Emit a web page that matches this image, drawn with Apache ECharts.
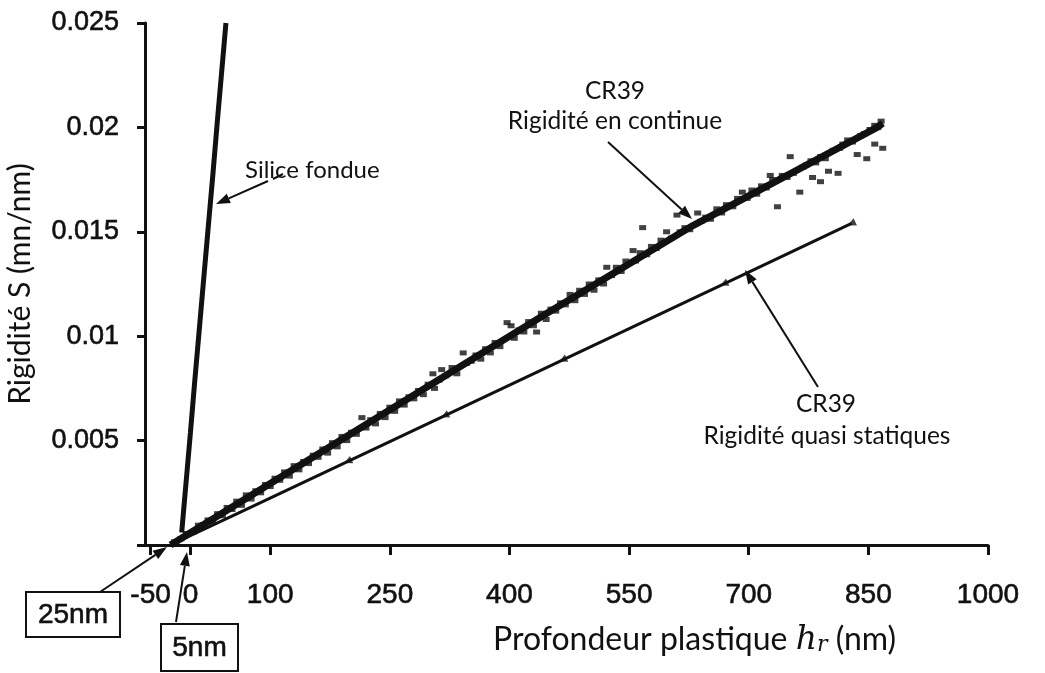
<!DOCTYPE html>
<html>
<head>
<meta charset="utf-8">
<script src="https://cdn.jsdelivr.net/npm/echarts@6/dist/echarts.min.js"></script>
<style>
  html, body { margin: 0; padding: 0; background: #fff; }
  #chart { width: 1045px; height: 673px; }
</style>
</head>
<body>
<div id="chart"></div>
<script>
// Tick positions shown on the depth axis (nm)
const depthTicks = [-50, 0, 100, 250, 400, 550, 700, 850, 1000];

// Fused silica: stiffness vs plastic depth
const silicaCurve = [
  [-11, 0.0006], [-5.5, 0.0030], [0, 0.0054], [5.5, 0.0079], [11, 0.0103],
  [16.5, 0.0127], [22, 0.0151], [28, 0.0177], [33.5, 0.0202], [39, 0.0226], [44.5, 0.0250]
];

// CR39, continuous stiffness: trend through the measurement cloud
const cr39ContinuousTrend = [
  [-25, 0], [60, 0.0020], [187.5, 0.0050], [447, 0.0111], [630, 0.0153], [861, 0.0200], [868, 0.0202]
];

// CR39, continuous stiffness: individual measurements
const cr39ContinuousPoints = [
  [-20,0.00015],[-12,0.0003],[-5,0.00055],[3,0.0006],[10,0.00095],[16,0.00098],[22,0.0012],[28,0.0011],
  [34,0.0015],[40,0.0014],[46,0.0018],[52,0.0017],[58,0.0021],[64,0.0019],[70,0.0024],[76,0.0022],
  [82,0.0026],[88,0.0025],[94,0.0029],[100,0.0028],[106,0.0032],[112,0.0031],[118,0.0035],[124,0.0033],
  [130,0.0038],[136,0.0036],[142,0.0040],[148,0.0039],[154,0.0043],[160,0.0042],[166,0.0046],[172,0.0044],
  [178,0.0049],[184,0.0047],[190,0.0052],[196,0.0050],[202,0.0054],[208,0.0053],[215,0.0061],[220,0.0056],
  [226,0.0060],[232,0.0058],[238,0.0063],[244,0.0061],[250,0.0066],[256,0.0064],[262,0.0069],[268,0.0067],
  [274,0.0071],[280,0.0070],[286,0.0074],[292,0.0072],[298,0.0077],[304,0.0082],[306,0.0075],[315,0.0084],
  [312,0.0079],[320,0.0081],[328,0.0085],[334,0.0082],[342,0.0092],[346,0.0087],[352,0.0088],[358,0.0091],
  [364,0.0089],[370,0.0094],[376,0.0092],[382,0.0097],[388,0.0095],[397,0.01065],[402,0.0105],[406,0.0099],
  [412,0.0103],[418,0.0102],[424,0.0107],[430,0.0105],[434,0.0102],[440,0.0111],[446,0.0108],[452,0.0113],
  [458,0.0112],[464,0.0116],[470,0.0115],[476,0.0120],[482,0.0117],[488,0.0122],[494,0.0120],[500,0.0125],
  [506,0.0122],[512,0.0127],[518,0.0125],[522,0.0133],[528,0.0129],[534,0.0133],[540,0.0131],[546,0.0136],
  [555,0.0141],[558,0.0136],[564,0.0140],[567,0.0152],[572,0.0139],[578,0.0143],[584,0.0142],[590,0.0146],
  [597,0.0150],[603,0.0147],[610,0.0158],[614,0.0150],[620,0.0152],[626,0.0151],[636,0.0159],[640,0.0155],
  [646,0.0157],[652,0.0156],[660,0.0161],[666,0.0159],[672,0.0163],[680,0.0162],[686,0.0166],[692,0.0169],
  [698,0.0166],[704,0.0170],[710,0.0168],[716,0.0172],[722,0.0171],[727,0.0177],[730,0.0175],[736,0.0162],
  [742,0.0177],[748,0.0176],[752,0.0186],[756,0.0178],[764,0.0169],[768,0.0181],[772,0.0182],[778,0.0184],
  [780,0.0176],[784,0.0183],[790,0.0186],[790,0.0174],[796,0.0185],[800,0.0179],[806,0.0189],[812,0.0178],
  [814,0.0190],[818,0.0192],[824,0.0194],[830,0.0193],[836,0.0187],[840,0.0196],[845,0.0197],[848,0.0185],
  [852,0.0199],[858,0.0201],[858,0.0192],[862,0.0200],[866,0.0203],[868,0.0190]
];

// CR39, quasi-static stiffness
const cr39QuasiStatic = [
  [-25, 0], [60, 0.00153], [197.5, 0.00401], [319, 0.0062], [467, 0.00887], [669, 0.01251], [829, 0.0154]
];
// Quasi-static measurement markers
const cr39QuasiMarkers = [
  [197.5, 0.00401], [319, 0.0062], [467, 0.00887], [669, 0.01251], [829, 0.0154]
];

const INK = '#111';
const TICK_FONT = '"Liberation Sans", Arial, sans-serif';
const TEXT_FONT = 'Lato, "Noto Sans", sans-serif';

const chart = echarts.init(document.getElementById('chart'), null, { renderer: 'canvas' });

function arrow(x1, y1, x2, y2, len, half) {
  const a = Math.atan2(y2 - y1, x2 - x1);
  const bx = x2 - len * Math.cos(a), by = y2 - len * Math.sin(a);
  const nx = Math.sin(a) * half, ny = -Math.cos(a) * half;
  return [
    { type: 'line', silent: true, shape: { x1, y1, x2: bx, y2: by }, style: { stroke: INK, lineWidth: 2 } },
    { type: 'polygon', silent: true, shape: { points: [[x2, y2], [bx + nx, by + ny], [bx - nx, by - ny]] }, style: { fill: INK } }
  ];
}
function label(x, y, text, size, align) {
  return { type: 'text', silent: true, x, y,
    style: { text, fill: INK, font: size + 'px ' + TEXT_FONT, textAlign: align || 'center', textVerticalAlign: 'middle' } };
}
function boxed(x, y, w, h, text) {
  return [
    { type: 'rect', silent: true, shape: { x, y, width: w, height: h }, style: { fill: '#fff', stroke: INK, lineWidth: 2 } },
    { type: 'text', silent: true, x: x + w / 2, y: y + h / 2 + 1,
      style: { text, fill: INK, font: '28px ' + TICK_FONT, textAlign: 'center', textVerticalAlign: 'middle',
               stroke: INK, lineWidth: 0.6 } }
  ];
}

const annotations = [].concat(
  label(245, 170, 'Silice fondue', 24, 'left'),
  [{ type: 'line', silent: true, shape: { x1: 283, y1: 174, x2: 273, y2: 179 }, style: { stroke: INK, lineWidth: 2 } }],
  arrow(268, 181, 216, 204, 14, 5),
  label(615, 91, 'CR39', 24.5),
  label(615, 121, 'Rigidité en continue', 24.5),
  arrow(608, 142, 692, 219, 14, 5),
  label(826, 404, 'CR39', 24.5),
  label(827, 436, 'Rigidité quasi statiques', 24.5),
  arrow(818, 387, 745, 270, 14, 5),
  boxed(26, 592, 94, 45, '25nm'),
  arrow(100, 592, 167, 547, 14, 5),
  boxed(161, 624, 77, 47, '5nm'),
  arrow(176, 622, 187, 552, 14, 5),
  [{
    type: 'text', silent: true, x: 493, y: 640,
    style: {
      text: '{a|Profondeur plastique }{h|h}{r|r}{a| (nm)}',
      textVerticalAlign: 'middle',
      rich: {
        a: { font: '32px ' + TEXT_FONT, fill: INK },
        h: { font: 'italic 33px "DejaVu Serif", serif', fill: INK },
        r: { font: 'italic 22px "DejaVu Serif", serif', fill: INK, verticalAlign: 'bottom', padding: [10, 0, 0, 0] }
      }
    }
  }]
);

chart.setOption({
  animation: false,
  backgroundColor: '#fff',
  grid: { left: 145, top: 23, right: 57, bottom: 128, containLabel: false, outerBoundsMode: 'none' },
  xAxis: {
    type: 'value', min: -57, max: 1000,
    axisLine: { onZero: false, lineStyle: { color: INK, width: 3 } },
    axisTick: { show: true, inside: false, length: 10, lineStyle: { color: INK, width: 3 }, customValues: depthTicks },
    axisLabel: {
      customValues: depthTicks, color: INK, fontFamily: TICK_FONT, fontSize: 28, margin: 36,
      textBorderColor: INK, textBorderWidth: 0.6,
      formatter: v => String(v)
    },
    splitLine: { show: false }
  },
  yAxis: {
    type: 'value', min: 0, max: 0.025, interval: 0.005,
    name: 'Rigidité S (mn/nm)', nameLocation: 'middle', nameGap: 110, nameRotate: 90,
    nameTextStyle: { color: INK, fontFamily: TEXT_FONT, fontSize: 30 },
    axisLine: { onZero: false, lineStyle: { color: INK, width: 3 } },
    axisTick: { show: true, inside: false, length: 8, lineStyle: { color: INK, width: 3 } },
    axisLabel: {
      color: INK, fontFamily: TICK_FONT, fontSize: 27, margin: 26,
      textBorderColor: INK, textBorderWidth: 0.6,
      formatter: v => (v === 0 ? '' : String(parseFloat(v.toFixed(3))))
    },
    splitLine: { show: false }
  },
  series: [
    { name: 'Silice fondue', type: 'line', data: silicaCurve, showSymbol: false,
      lineStyle: { color: INK, width: 5 } },
    { name: 'CR39 continue (tendance)', type: 'line', data: cr39ContinuousTrend, showSymbol: false,
      lineStyle: { color: INK, width: 7 } },
    { name: 'CR39 continue', type: 'scatter', data: cr39ContinuousPoints, symbol: 'rect', symbolSize: [7, 5],
      itemStyle: { color: INK } },
    { name: 'CR39 quasi statique', type: 'line', data: cr39QuasiStatic, showSymbol: false,
      lineStyle: { color: INK, width: 3 } },
    { name: 'CR39 quasi statique (mesures)', type: 'scatter', data: cr39QuasiMarkers, symbol: 'triangle',
      symbolSize: 8, symbolRotate: 115, itemStyle: { color: INK } }
  ],
  graphic: annotations
});
</script>
</body>
</html>
